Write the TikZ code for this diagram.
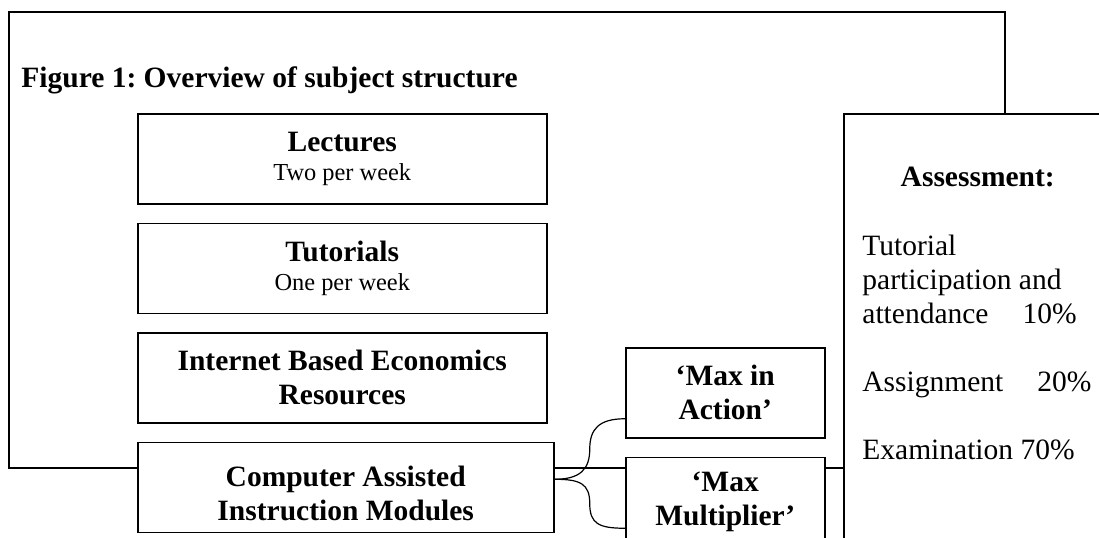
\documentclass[tikz,border=0pt]{standalone}
\usepackage{fontspec}
\setmainfont{Liberation Serif}
\usepackage{tikz}
\usetikzlibrary{positioning,calc}
\newcommand{\bodyfont}{\fontsize{14.75}{17}\selectfont\frenchspacing}
\newcommand{\sublabel}[1]{{\fontsize{12.2}{14.5}\selectfont\mdseries #1}}

\begin{document}
\begin{tikzpicture}[x=0.5pt, y=-0.5pt, node distance=9pt]
    \tikzstyle{unit} = [rectangle, draw, fill=white, line width=0.75pt,
        font=\bodyfont\bfseries, align=center, minimum width=204.5pt,
        minimum height=45pt, inner sep=2pt]
    \tikzstyle{module} = [unit, minimum width=99.5pt]
    \tikzstyle{outline} = [line width=1pt]
    \tikzstyle{brace} = [line width=0.6pt]

    \useasboundingbox (0,0) rectangle (1099,537);
    \draw [outline] (9,12) rectangle (1005,468);
    \node [anchor=base west, inner sep=0pt, font=\bodyfont\bfseries] (title) at (21,87) {Figure 1: Overview of subject structure};

    \node [unit, anchor=north west] (lectures) at (137,113) {Lectures\\[-2.25pt]\sublabel{Two per week}};
    \node [unit, below=of lectures.south west, anchor=north west] (tutorials) {Tutorials\\[-2.25pt]\sublabel{One per week}};
    \node [unit, below=of tutorials.south west, anchor=north west] (internet) {Internet Based Economics\\Resources};
    \node [unit, below=of internet.south west, anchor=north west, minimum width=208pt] (cai) {\rule{0pt}{16pt}Computer Assisted\\Instruction Modules};

    \node [module, anchor=north west] (action) at (625,347) {`Max in\\Action'};
    \node [module, below=of action.south west, anchor=north west] (multi) {`Max\\Multiplier'};

    % assessment panel, runs off the page
    \node [rectangle, draw, fill=white, line width=0.75pt, minimum width=134pt,
        minimum height=230pt, anchor=north west] (assess) at (843,113) {};
    \node [anchor=base, font=\bodyfont\bfseries] (assesshead) at ($(assess.north)+(0,73)$) {Assessment:};
    \node [anchor=north west, align=left, inner sep=0pt, font=\bodyfont] (assessbody)
        at ($(assess.north west)+(19,118)$)
        {\strut Tutorial\\participation and\\attendance\hspace{17pt}10\%\\[17pt]Assignment\hspace{17pt}20\%\\[17pt]Examination 70\%};

    \coordinate (fork) at ($(cai.east)+(0,-8)$);
    \coordinate (actionend) at ($(action.west)+(0,26)$);
    \coordinate (multiend) at ($(multi.west)+(0,26)$);
    \draw [brace] (fork) .. controls +(26,0) and +(0,20) .. ($(fork)!0.5!(actionend)$)
        .. controls +(0,-20) and +(-26,0) .. (actionend);
    \draw [brace] (fork) .. controls +(26,0) and +(0,-20) .. ($(fork)!0.5!(multiend)$)
        .. controls +(0,20) and +(-26,0) .. (multiend);
\end{tikzpicture}
\end{document}
